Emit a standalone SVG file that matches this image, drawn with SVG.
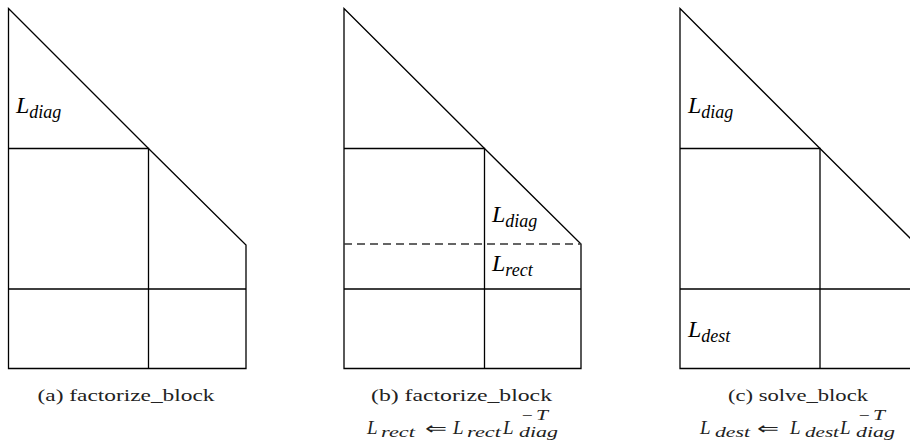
<svg xmlns="http://www.w3.org/2000/svg" width="910" height="445" viewBox="0 0 910 445">
<style>
.ln{fill:none;stroke:#000;stroke-width:1.3}
.dash{fill:none;stroke:#333;stroke-width:1.3;stroke-dasharray:8 5}
.lab{font-family:"Liberation Serif","Times New Roman",serif;font-style:italic;font-size:24px;fill:#000}
.sub{font-size:18px}
.cap{font-family:"Liberation Serif","Times New Roman",serif;font-size:17px;fill:#222}
.m{font-family:"Liberation Serif","Times New Roman",serif;font-style:italic;font-size:19px;fill:#222}
.ms{font-family:"Liberation Serif","Times New Roman",serif;font-style:italic;font-size:14px;fill:#222}
.mn{font-family:"Liberation Serif","Times New Roman",serif;font-size:14px;fill:#222}
.op{font-family:"DejaVu Sans",sans-serif;font-size:17px;fill:#222}
</style>
<rect width="910" height="445" fill="#fff"/>
<g id="panel-a">
<path class="ln" d="M8.5,8.5 L148.5,148.5 L246,245 L246,368.5 L8.5,368.5 Z"/>
<path class="ln" d="M8.5,148.5 H148.5 V368.5 M8.5,289 H246"/>
<text class="lab" x="16" y="113">L<tspan class="sub" dy="5">diag</tspan></text>
<text class="cap" x="126" y="401" text-anchor="middle" textLength="177" lengthAdjust="spacingAndGlyphs">(a) factorize_block</text>
</g>
<g id="panel-b">
<path class="ln" d="M344,8.5 L484.5,148.5 L581,244 L581,368.5 L344,368.5 Z"/>
<path class="ln" d="M344,148.5 H484.5 V368.5 M344,289 H581"/>
<path class="dash" d="M344,244 H581"/>
<text class="lab" x="492" y="222">L<tspan class="sub" dy="5">diag</tspan></text>
<text class="lab" x="492" y="271">L<tspan class="sub" dy="5">rect</tspan></text>
<text class="cap" x="461.5" y="401" text-anchor="middle" textLength="181" lengthAdjust="spacingAndGlyphs">(b) factorize_block</text>
<text class="m" x="367" y="434">L</text>
<text class="ms" x="381" y="437" textLength="34" lengthAdjust="spacingAndGlyphs">rect</text>
<text class="op" x="425" y="434" textLength="22" lengthAdjust="spacingAndGlyphs">⇐</text>
<text class="m" x="453" y="434">L</text>
<text class="ms" x="467" y="437" textLength="34" lengthAdjust="spacingAndGlyphs">rect</text>
<text class="m" x="503" y="434">L</text>
<text class="mn" x="522" y="420" textLength="11" lengthAdjust="spacingAndGlyphs">−</text>
<text class="ms" x="536" y="420" textLength="12" lengthAdjust="spacingAndGlyphs">T</text>
<text class="ms" x="519" y="437" textLength="39" lengthAdjust="spacingAndGlyphs">diag</text>
</g>
<g id="panel-c">
<path class="ln" d="M680,8.5 L820,148.5 L917,245 L917,368.5 L680,368.5 Z"/>
<path class="ln" d="M680,148.5 H820 V368.5 M680,289 H917"/>
<text class="lab" x="688" y="113">L<tspan class="sub" dy="5">diag</tspan></text>
<text class="lab" x="688" y="337">L<tspan class="sub" dy="5">dest</tspan></text>
<text class="cap" x="798" y="401" text-anchor="middle" textLength="140" lengthAdjust="spacingAndGlyphs">(c) solve_block</text>
<text class="m" x="700" y="434">L</text>
<text class="ms" x="715" y="437" textLength="35" lengthAdjust="spacingAndGlyphs">dest</text>
<text class="op" x="757" y="434" textLength="22" lengthAdjust="spacingAndGlyphs">⇐</text>
<text class="m" x="790" y="434">L</text>
<text class="ms" x="805" y="437" textLength="34" lengthAdjust="spacingAndGlyphs">dest</text>
<text class="m" x="840" y="434">L</text>
<text class="mn" x="859" y="420" textLength="11" lengthAdjust="spacingAndGlyphs">−</text>
<text class="ms" x="873" y="420" textLength="12" lengthAdjust="spacingAndGlyphs">T</text>
<text class="ms" x="856" y="437" textLength="39" lengthAdjust="spacingAndGlyphs">diag</text>
</g>
</svg>
